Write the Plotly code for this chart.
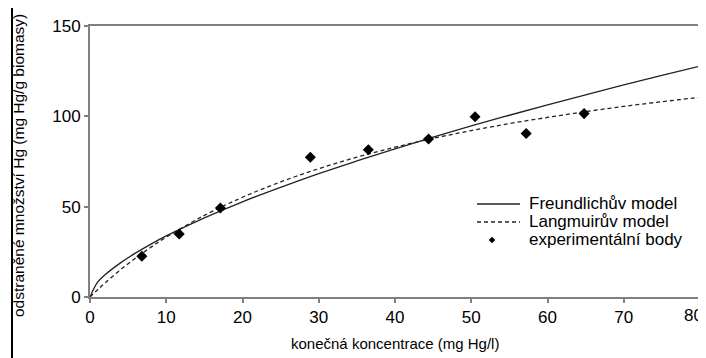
import plotly.graph_objects as go

# experimental points
exp_x = [6.8, 11.7, 17.1, 28.9, 36.5, 44.4, 50.5, 57.2, 64.8]
exp_y = [22.6, 34.9, 49.3, 77.4, 81.5, 87.5, 99.8, 90.5, 101.5]

# model curves
curve_x = [0, 1, 2, 4, 6, 8, 10, 15, 20, 25, 30, 35, 40, 45, 50, 55, 60, 65, 70, 75, 80]
freundlich_y = [0, 8.2, 12.4, 18.9, 24.4, 29.3, 33.8, 43.8, 52.7, 60.7, 68.3, 75.3, 82.0,
                88.5, 94.7, 100.6, 106.3, 111.9, 117.4, 122.7, 127.8]
langmuir_y = [0, 4.0, 7.9, 15.1, 21.6, 27.6, 33.1, 45.2, 55.2, 63.7, 71.0, 77.4, 82.9,
              87.8, 92.1, 96.0, 99.4, 102.6, 105.5, 108.1, 110.5]

x_ticks = [0, 10, 20, 30, 40, 50, 60, 70, 80]
x_ticktext = ["0", "10", "20", "30", "40", "50", "60", "70", ""]
last_x_label = "80"
y_ticks = [0, 50, 100, 150]

legend_labels = ["Freundlichův model", "Langmuirův model", "experimentální body"]
x_title = "konečná koncentrace (mg Hg/l)"
y_title = "odstraněné množství Hg (mg Hg/g biomasy)"

FONT = "Liberation Sans, Arial, sans-serif"
OFF = 8  # page body margin
W, H = 698, 350
L, R, T, B = 82, 6, 18, 61
PW, PH = W - L - R, H - T - B


def px(x):
    return (x - OFF - L) / PW


def py(y):
    return (H - B - (y - OFF)) / PH


fig = go.Figure()
fig.add_trace(go.Scatter(x=curve_x, y=freundlich_y, mode="lines", line=dict(color="#222", width=1.3),
                         line_shape="spline", showlegend=False))
fig.add_trace(go.Scatter(x=curve_x, y=langmuir_y, mode="lines",
                         line=dict(color="#222", width=1.3, dash="4px,3px"),
                         line_shape="spline", showlegend=False))
fig.add_trace(go.Scatter(x=exp_x, y=exp_y, mode="markers",
                         marker=dict(symbol="diamond", size=8.5, color="black"), showlegend=False))

axis_common = dict(showgrid=False, zeroline=False, showline=True, linecolor="#808080", linewidth=2,
                   mirror=True, ticks="outside", ticklen=4, tickcolor="#808080", tickwidth=1.5,
                   tickfont=dict(family=FONT, size=17, color="black"))
fig.update_xaxes(range=[0, 80], tickvals=x_ticks, ticktext=x_ticktext, **axis_common)
fig.update_yaxes(range=[0, 150], tickvals=y_ticks, **axis_common)

shapes = []
# outer frame (left and top edges visible)
shapes.append(dict(type="line", xref="paper", yref="paper", x0=px(12), x1=px(12), y0=py(7), y1=py(380),
                   line=dict(color="black", width=2)))
shapes.append(dict(type="line", xref="paper", yref="paper", x0=px(12), x1=px(730), y0=py(7), y1=py(7),
                   line=dict(color="black", width=2)))
# legend samples
shapes.append(dict(type="line", xref="paper", yref="paper", x0=px(477), x1=px(520), y0=py(204), y1=py(204),
                   line=dict(color="#222", width=1.3)))
shapes.append(dict(type="line", xref="paper", yref="paper", x0=px(477), x1=px(520), y0=py(222), y1=py(222),
                   line=dict(color="#222", width=1.3, dash="4px,3px")))
d = 3
cx, cy = 492, 240
shapes.append(dict(type="path", xref="paper", yref="paper",
                   path=f"M {px(cx)} {py(cy-d)} L {px(cx+d)} {py(cy)} L {px(cx)} {py(cy+d)} L {px(cx-d)} {py(cy)} Z",
                   fillcolor="black", line=dict(color="black", width=0.5)))

annotations = []
for lab, yy in zip(legend_labels, [203, 221, 239]):
    annotations.append(dict(text=lab, xref="paper", yref="paper", x=px(527), y=py(yy), xanchor="left",
                            yanchor="middle", showarrow=False, font=dict(family=FONT, size=17, color="black")))
annotations.append(dict(text=last_x_label, xref="paper", yref="paper", x=px(705), y=py(315), xanchor="right",
                        yanchor="middle", showarrow=False, font=dict(family=FONT, size=17, color="black")))
annotations.append(dict(text=x_title, xref="paper", yref="paper", x=px(395), y=py(343), xanchor="center",
                        yanchor="middle", showarrow=False, font=dict(family=FONT, size=15, color="black")))
annotations.append(dict(text=y_title, xref="paper", yref="paper", x=px(18), y=py(166), xanchor="center",
                        yanchor="middle", textangle=-90, showarrow=False,
                        font=dict(family=FONT, size=15.5, color="black")))

fig.update_layout(width=W, height=H, margin=dict(l=L, r=R, t=T, b=B, autoexpand=False),
                  paper_bgcolor="white", plot_bgcolor="white", shapes=shapes, annotations=annotations,
                  showlegend=False)
fig.write_html("out.html")
